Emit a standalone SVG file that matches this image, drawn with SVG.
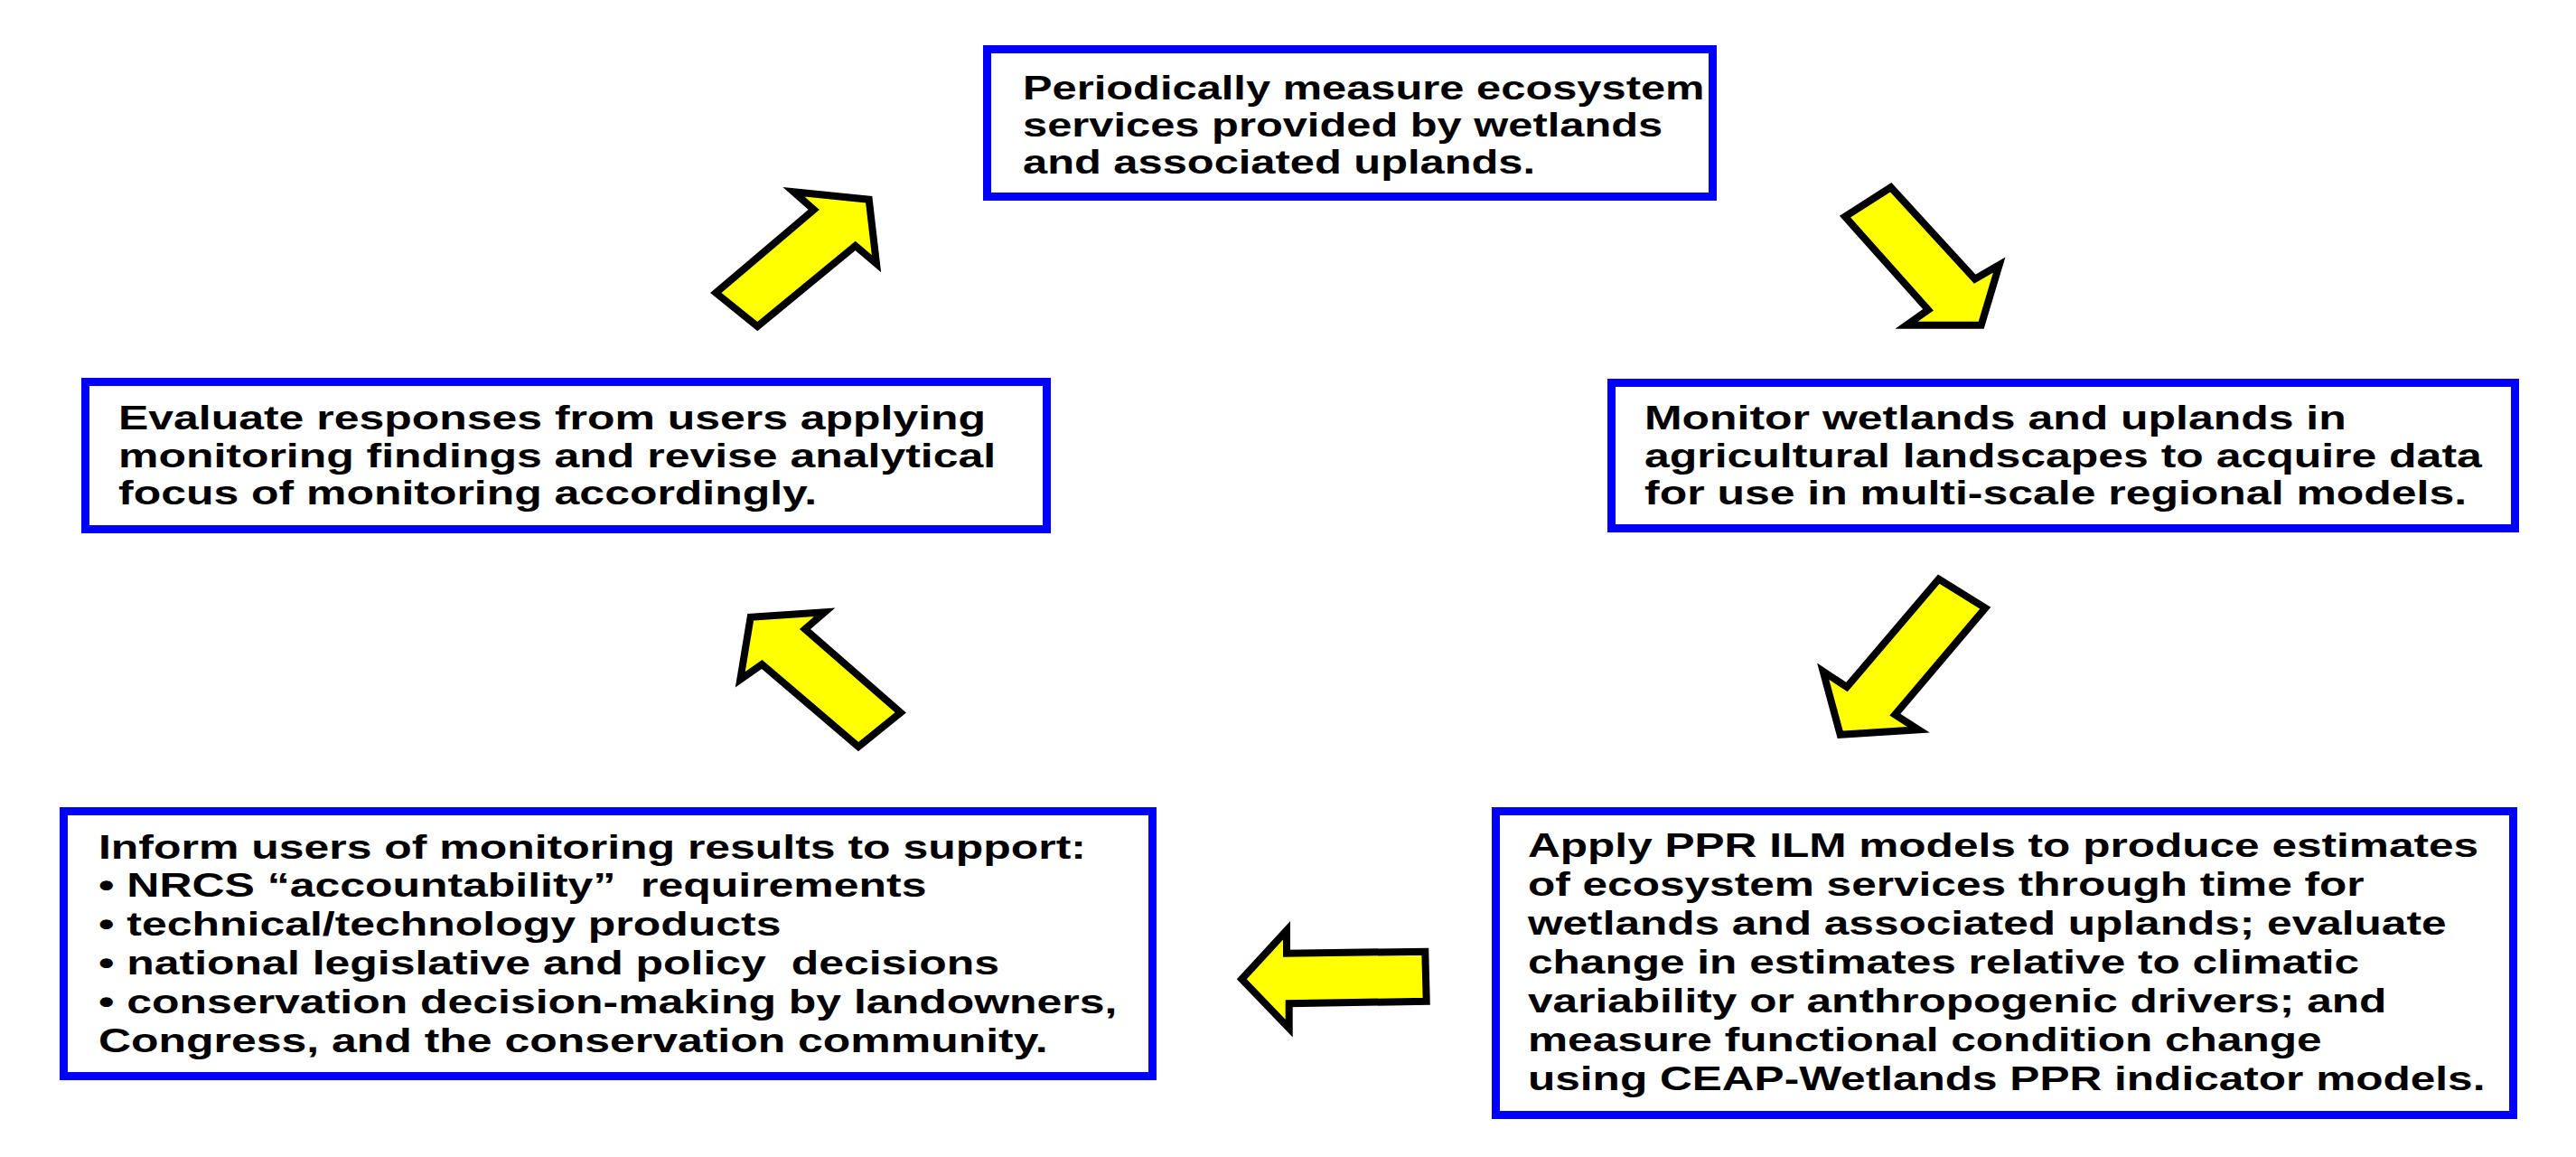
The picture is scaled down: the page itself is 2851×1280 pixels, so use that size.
<svg xmlns="http://www.w3.org/2000/svg" width="2851" height="1280" viewBox="0 0 2851 1280">
<style>
.box{fill:#ffffff;stroke:#0000ff;stroke-width:9}
.arrow{fill:#ffff00;stroke:#000000;stroke-width:8;stroke-linejoin:miter;stroke-miterlimit:10}
.t{font-family:"Liberation Sans",Arial,sans-serif;font-weight:bold;font-size:37px;fill:#000000;white-space:pre}
</style>
<rect width="2851" height="1280" fill="#ffffff"/>
<g id="node-measure">
<rect class="box" x="1092.5" y="54.5" width="803" height="163"/>
<g transform="translate(1132 0) scale(1.32 1)">
<text class="t"><tspan x="0" y="110">Periodically measure ecosystem</tspan><tspan x="0" y="151">services provided by wetlands</tspan><tspan x="0" y="192">and associated uplands.</tspan></text>
</g>
</g>
<g id="node-monitor">
<rect class="box" x="1783.5" y="423.5" width="1000" height="161"/>
<g transform="translate(1820 0) scale(1.35 1)">
<text class="t"><tspan x="0" y="475">Monitor wetlands and uplands in</tspan><tspan x="0" y="517">agricultural landscapes to acquire data</tspan><tspan x="0" y="558">for use in multi-scale regional models.</tspan></text>
</g>
</g>
<g id="node-evaluate">
<rect class="box" x="94.5" y="422.5" width="1064" height="163"/>
<g transform="translate(131 0) scale(1.35 1)">
<text class="t"><tspan x="0" y="475">Evaluate responses from users applying</tspan><tspan x="0" y="517">monitoring findings and revise analytical</tspan><tspan x="0" y="558">focus of monitoring accordingly.</tspan></text>
</g>
</g>
<g id="node-inform">
<rect class="box" x="70.5" y="897.5" width="1205" height="293"/>
<g transform="translate(109 0) scale(1.35 1)">
<text class="t"><tspan x="0" y="950">Inform users of monitoring results to support:</tspan><tspan x="0" y="992.5">• NRCS “accountability”  requirements</tspan><tspan x="0" y="1035">• technical/technology products</tspan><tspan x="0" y="1078">• national legislative and policy  decisions</tspan><tspan x="0" y="1121">• conservation decision-making by landowners,</tspan><tspan x="0" y="1164">Congress, and the conservation community.</tspan></text>
</g>
</g>
<g id="node-apply">
<rect class="box" x="1655.5" y="897.5" width="1126" height="336"/>
<g transform="translate(1691 0) scale(1.34 1)">
<text class="t"><tspan x="0" y="948">Apply PPR ILM models to produce estimates</tspan><tspan x="0" y="991">of ecosystem services through time for</tspan><tspan x="0" y="1034">wetlands and associated uplands; evaluate</tspan><tspan x="0" y="1077">change in estimates relative to climatic</tspan><tspan x="0" y="1120">variability or anthropogenic drivers; and</tspan><tspan x="0" y="1163">measure functional condition change</tspan><tspan x="0" y="1206">using CEAP-Wetlands PPR indicator models.</tspan></text>
</g>
</g>
<g id="connectors">
<polygon class="arrow" points="792.3,324 838.3,361 946.7,272 970,291.7 961.7,220.7 878.3,212.3 900.7,232"/>
<polygon class="arrow" points="2042,239.7 2092.7,207.3 2185.7,308.7 2212.7,293 2192.7,359.7 2110,359.7 2134,342.7"/>
<polygon class="arrow" points="2145.7,640.7 2197.3,672.7 2097.3,790.7 2123.3,807.3 2036.7,812.7 2017.7,742.7 2044,760"/>
<polygon class="arrow" points="1577.3,1052.7 1578.7,1107.7 1426.7,1110.3 1426.7,1137.7 1374.3,1083.3 1424,1029.3 1424,1054.7"/>
<polygon class="arrow" points="996.7,788.3 950,826 843.3,735 819.3,751.7 830.7,682.7 912.7,677.3 891,696"/>
</g>
</svg>
